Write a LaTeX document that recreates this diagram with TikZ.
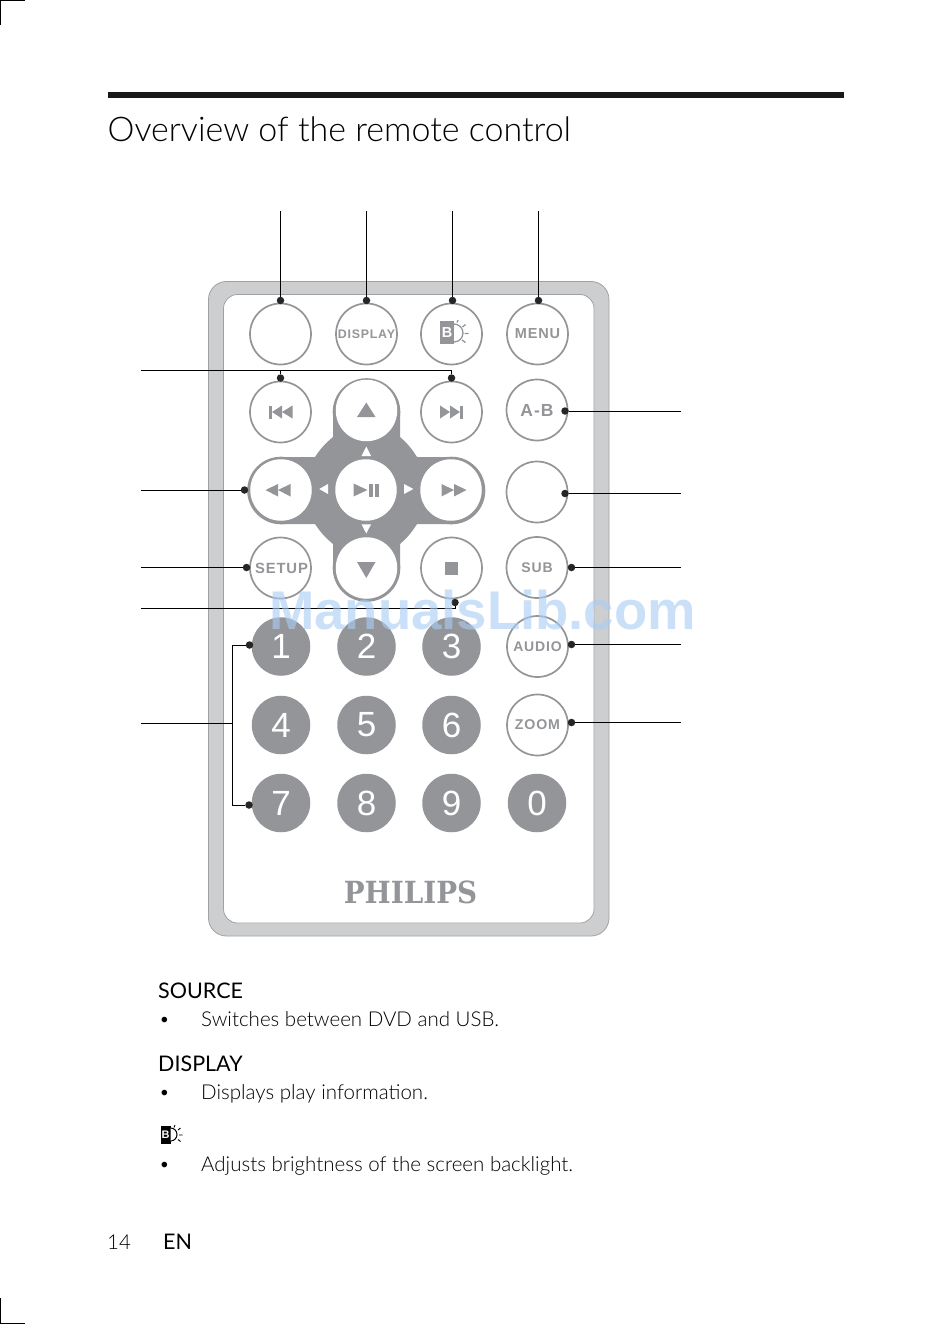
\documentclass[tikz,border=0pt]{standalone}
\usepackage{fontspec}
\setmainfont{Lato}
\newfontfamily\lightf{Lato Light}
\newfontfamily\arialf{Liberation Sans}
\newfontfamily\keyf[LetterSpace=6]{Liberation Sans}
\newfontfamily\logof{DejaVu Serif}
\usetikzlibrary{calc}
\definecolor{btn}{RGB}{147,149,152}
\definecolor{rim}{RGB}{205,206,208}
\definecolor{rimline}{RGB}{160,161,163}
\definecolor{wm}{RGB}{170,205,245}
\newcommand{\lowr}[1]{\raisebox{-1pt}{#1}}
\tikzset{
 x=1pt,y=-1pt,
 keybtn/.style={circle,draw=btn,line width=1.7pt,fill=white,minimum size=61pt,inner sep=0pt,text=btn,font=\keyf\bfseries\fontsize{13}{13}\selectfont},
 numbtn/.style={circle,fill=btn,minimum size=58.5pt,inner sep=0pt,text=white,font=\arialf\fontsize{35}{35}\selectfont},
 navbtn/.style={circle,fill=white,draw=none,minimum size=61.5pt,inner sep=0pt},
 lead/.style={draw=black,line width=0.8pt},
 tip/.style={circle,fill=black!85,inner sep=0pt,minimum size=7.5pt},
 glyph/.style={fill=btn,draw=none},
 wglyph/.style={fill=white,draw=none},
 body/.style={anchor=base west,inner sep=0pt,font=\lightf\fontsize{20.5}{20.5}\selectfont},
 head/.style={anchor=base west,inner sep=0pt,font=\fontsize{21.5}{21.5}\selectfont},
 bull/.style={anchor=base west,inner sep=0pt,font=\fontsize{15}{15}\selectfont},
 crop/.style={draw=black,line width=1.2pt}
}
\begin{document}
\begin{tikzpicture}
\useasboundingbox (0,0) rectangle (950,1324);
\fill[white] (0,0) rectangle (950,1324);
% crop marks
\draw[crop] (0.6,25) -- (0.6,0.6) -- (25,0.6);
\draw[crop] (0.6,1298) -- (0.6,1323.4) -- (25,1323.4);
% header
\fill[black!90] (107.5,92) rectangle (844,98);
\node[anchor=base west,inner sep=0pt,font=\lightf\fontsize{34}{34}\selectfont] (title) at (107.5,142) {Overview of the remote control};
% body of the remote
\draw[draw=rimline,fill=rim,line width=0.8pt,rounded corners=18pt] (208.5,281.5) rectangle (609,936);
\draw[draw=rimline,fill=white,line width=0.8pt,rounded corners=14pt] (223.5,294.5) rectangle (594,923);
% nav pad
\fill[btn] (333,412) -- (400,412) -- (400,437) to[bend left=8] (417,457) -- (452,457) -- (452,524) -- (417,524) to[bend left=8] (400,544) -- (400,568) -- (333,568) -- (333,544) to[bend left=8] (315,524) -- (281,524) -- (281,457) -- (315,457) to[bend left=8] (333,437) -- cycle;
\fill[btn] (281,490.5) circle (33.8);
\fill[btn] (451.5,490.5) circle (33.8);
\fill[btn] (366.5,412) circle (33.8);
\fill[btn] (366.5,568) circle (33.8);
\node[navbtn] (up) at (366.5,410.5) {};
\node[navbtn] (down) at (366.5,568) {};
\node[navbtn] (rew) at (281,490) {};
\node[navbtn] (ffw) at (451,490) {};
\node[navbtn] (play) at (366,490) {};
% row 1
\node[keybtn] (source) at (280.5,334) {};
\node[keybtn,font=\keyf\bfseries\fontsize{12.4}{12.4}\selectfont] (display) at (366.5,334) {\lowr{DISPLAY}};
\node[keybtn] (bright) at (451.5,334) {};
\node[keybtn,font=\keyf\bfseries\fontsize{14.5}{14.5}\selectfont] (menu) at (537.5,334) {\lowr{MENU}};
% row 2
\node[keybtn] (prev) at (280.5,412) {};
\node[keybtn] (next) at (451.5,412) {};
\node[keybtn,font=\keyf\bfseries\fontsize{17.5}{17.5}\selectfont] (ab) at (537,410) {\lowr{A-B}};
% row 3
\node[keybtn] (blank) at (537,492) {};
% row 4
\node[keybtn,font=\keyf\bfseries\fontsize{14.8}{14.8}\selectfont] (setup) at (280.5,568) {\hspace{2pt}\lowr{SETUP}};
\node[keybtn] (stop) at (451.5,568) {};
\node[keybtn,font=\keyf\bfseries\fontsize{14}{14}\selectfont] (sub) at (537,567.5) {SUB};
% audio, zoom
\node[keybtn,font=\keyf\bfseries\fontsize{14}{14}\selectfont] (audio) at (537.5,646.5) {AUDIO};
\node[keybtn,font=\keyf\bfseries\fontsize{14.2}{14.2}\selectfont] (zoom) at (537.5,725) {\lowr{ZOOM}};
% numbers
\node[numbtn] (n1) at (281,646.5) {1};
\node[numbtn] (n2) at (366.5,646.5) {2};
\node[numbtn] (n3) at (451.5,646.5) {3};
\node[numbtn] (n4) at (281,725) {4};
\node[numbtn] (n5) at (366.5,725) {5};
\node[numbtn] (n6) at (451.5,725) {6};
\node[numbtn] (n7) at (281,803) {7};
\node[numbtn] (n8) at (366.5,803) {8};
\node[numbtn] (n9) at (451.5,803) {9};
\node[numbtn] (n0) at (537,803) {0};
% glyphs
\fill[glyph] (366.3,402.5) -- (375.5,417) -- (357,417) -- cycle;
\fill[glyph] (366.3,578) -- (375.5,562) -- (357,562) -- cycle;
\fill[glyph] (445,562) rectangle (458,574.5);
\fill[glyph] (269,405.5) rectangle (272,418.5);
\fill[glyph] (272,412) -- (282,405.5) -- (282,418.5) -- cycle;
\fill[glyph] (282,412) -- (292.5,405.5) -- (292.5,418.5) -- cycle;
\fill[glyph] (440,405.5) -- (450,412) -- (440,418.5) -- cycle;
\fill[glyph] (450,405.5) -- (460,412) -- (450,418.5) -- cycle;
\fill[glyph] (460,405.5) rectangle (463,418.5);
\fill[glyph] (265.5,490) -- (278,484) -- (278,496.5) -- cycle;
\fill[glyph] (278,490) -- (290.5,484) -- (290.5,496.5) -- cycle;
\fill[glyph] (441.5,484) -- (454,490) -- (441.5,496.5) -- cycle;
\fill[glyph] (454,484) -- (466.5,490) -- (454,496.5) -- cycle;
\fill[glyph] (353.5,483.5) -- (367.5,490) -- (353.5,496.5) -- cycle;
\fill[glyph] (368.5,483.5) rectangle (373,496.5);
\fill[glyph] (375,483.5) rectangle (379,496.5);
\fill[wglyph] (366.3,446.5) -- (371,456) -- (361.5,456) -- cycle;
\fill[wglyph] (366.3,533.5) -- (371,524.3) -- (361.5,524.3) -- cycle;
\fill[wglyph] (319.3,489) -- (328,484) -- (328,494) -- cycle;
\fill[wglyph] (413.3,489) -- (404,484) -- (404,494) -- cycle;
% brightness icon on the button
\begin{scope}[shift={(451.5,333)}]
\fill[glyph] (-11.5,-12) rectangle (2.5,11);
\draw[btn,line width=1.3pt,fill=white] (2.5,-9) arc[start angle=-90,end angle=90,radius=9];
\node[text=white,inner sep=0pt,font=\arialf\bfseries\fontsize{14.5}{14.5}\selectfont] (bl) at (-4.5,0) {B};
\draw[btn,line width=1.3pt] (5.5,-10.5) -- (6.5,-13) (11,-6) -- (14,-8.5) (13,0.5) -- (17,0.5) (10.5,7) -- (14,9.5);
\end{scope}
% philips
\node[text=btn,inner sep=0pt,xscale=.91,transform shape,font=\logof\bfseries\fontsize{30.5}{30.5}\selectfont] (logo) at (410.5,892.5) {PHILIPS};
% leaders: top
\coordinate (t1) at (280.5,211); \coordinate (t2) at (366.5,211); \coordinate (t3) at (452.5,211); \coordinate (t4) at (538.5,211);
\node[tip] (d1) at (280.5,300.5) {};
\node[tip] (d2) at (366.5,300.5) {};
\node[tip] (d3) at (452.5,300.5) {};
\node[tip] (d4) at (538.5,300.5) {};
\draw[lead] (t1) -- (d1); \draw[lead] (t2) -- (d2); \draw[lead] (t3) -- (d3); \draw[lead] (t4) -- (d4);
% skip
\coordinate (ls) at (141,370.5);
\node[tip] (dp) at (280.5,378) {};
\node[tip] (dn) at (451.5,378) {};
\draw[lead] (ls) -- (451.5,370.5) -- (dn);
\draw[lead] (280.5,370.5) -- (dp);
% left
\coordinate (l1) at (141,490);
\node[tip] (dl1) at (244.5,490) {};
\draw[lead] (l1) -- (dl1);
\coordinate (l2) at (141,567.5);
\node[tip] (dl2) at (246.5,567.5) {};
\draw[lead] (l2) -- (dl2);
\coordinate (l3) at (141,608.5);
\node[tip] (dl3) at (455,602.5) {};
\draw[lead] (l3) -- (455,608.5) -- (dl3);
\coordinate (l4) at (141,723);
\node[tip] (dl4) at (249.5,645) {};
\node[tip] (dl5) at (249,805) {};
\draw[lead] (dl4) -- (232,645) -- (232,805) -- (dl5);
\draw[lead] (l4) -- (232,723);
% right
\coordinate (r1) at (681,411); \node[tip] (dr1) at (565,411) {}; \draw[lead] (r1) -- (dr1);
\coordinate (r2) at (681,493.5); \node[tip] (dr2) at (565,493.5) {}; \draw[lead] (r2) -- (dr2);
\coordinate (r3) at (681,567.5); \node[tip] (dr3) at (571.5,567.5) {}; \draw[lead] (r3) -- (dr3);
\coordinate (r4) at (681,644.5); \node[tip] (dr4) at (571.5,644.5) {}; \draw[lead] (r4) -- (dr4);
\coordinate (r5) at (681,722.5); \node[tip] (dr5) at (571.5,722.5) {}; \draw[lead] (r5) -- (dr5);
% watermark
\node[opacity=.62,text=wm,inner sep=0pt,font=\arialf\bfseries\fontsize{54.5}{54.5}\selectfont] (mark) at (482.5,610) {ManualsLib.com};
% text
\node[head] (a1) at (158,998) {SOURCE};
\node[bull] (a2) at (160,1024) {•};
\node[body] (a3) at (201,1026) {Switches between DVD and USB.};
\node[head] (b1) at (158,1071) {DISPLAY};
\node[bull] (b2) at (160,1097.5) {•};
\node[body] (b3) at (201,1099.5) {Displays play information.};
\begin{scope}[shift={(160,1134.5)}]
\fill[black] (0.5,-9) rectangle (10.5,9);
\draw[black,line width=1pt,fill=white] (10.5,-6.5) arc[start angle=-90,end angle=90,radius=6.5];
\node[text=white,inner sep=0pt,font=\arialf\bfseries\fontsize{11}{11}\selectfont] (bl2) at (5.5,0) {B};
\draw[black,line width=0.9pt] (14,-7) -- (15,-9.5) (18,-4.5) -- (20.5,-6.5) (19,0.5) -- (22.5,0.5) (18,5) -- (20.5,7);
\end{scope}
\node[bull] (c2) at (160,1169.5) {•};
\node[body] (c3) at (201,1171.5) {Adjusts brightness of the screen backlight.};
\node[body] (pg) at (107,1249) {14};
\node[head] (en) at (163,1249) {EN};
\end{tikzpicture}
\end{document}
